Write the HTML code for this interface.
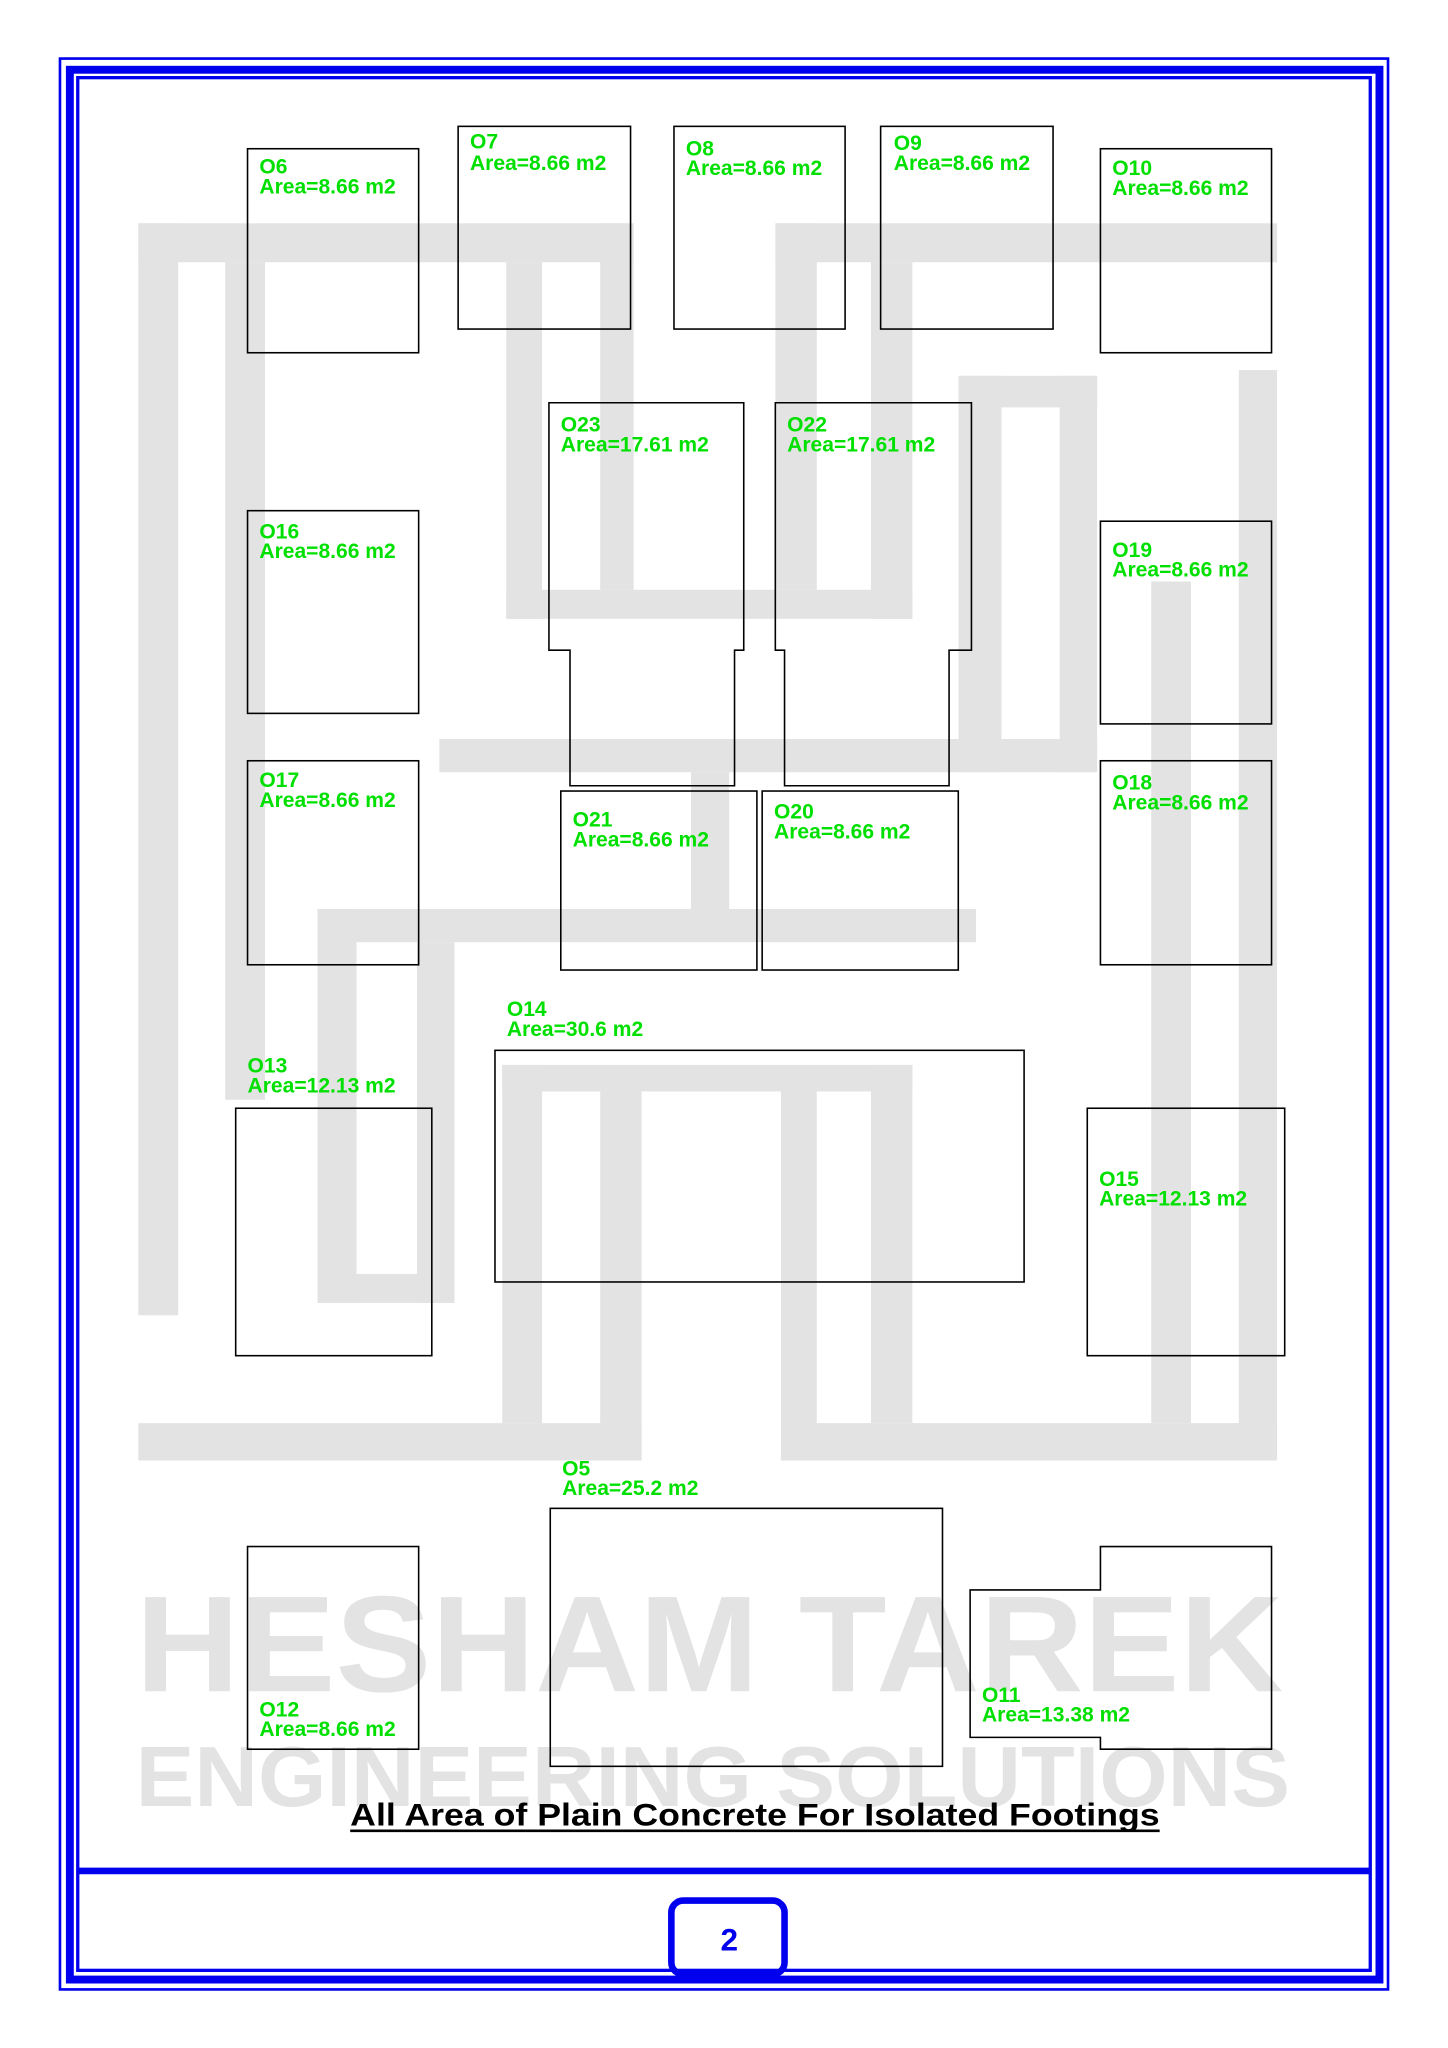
<!DOCTYPE html>
<html><head><meta charset="utf-8"><style>
html,body{margin:0;padding:0;background:#fff;width:1448px;height:2048px;overflow:hidden}
svg{display:block}
.b{fill:none;stroke:#000;stroke-width:1.2}
.g{fill:#e3e3e3}
.l{fill:#00e000;font-family:"Liberation Sans",sans-serif;font-size:16px;font-weight:bold}
</style></head><body>
<svg width="1448" height="2048" viewBox="0 0 1100 1556" xmlns="http://www.w3.org/2000/svg">
<rect width="1100" height="1556" fill="#fff"/>
<g class="g" transform="translate(76,152) scale(0.605,0.63)">
<rect x="48" y="28" width="622" height="47"/>
<rect x="48" y="28" width="50" height="1317"/>
<rect x="157" y="75" width="50" height="1010"/>
<rect x="510" y="75" width="45" height="430"/>
<rect x="628" y="28" width="42" height="442"/>
<rect x="510" y="470" width="510" height="35"/>
<rect x="848" y="28" width="630" height="47"/>
<rect x="848" y="28" width="52" height="442"/>
<rect x="968" y="75" width="52" height="430"/>
<rect x="1078" y="212" width="174" height="38"/>
<rect x="1078" y="212" width="54" height="478"/>
<rect x="1205" y="212" width="47" height="478"/>
<rect x="426" y="650" width="826" height="40"/>
<rect x="1430" y="205" width="48" height="1315"/>
<rect x="1320" y="460" width="50" height="1015"/>
<rect x="742" y="690" width="48" height="165"/>
<rect x="273" y="855" width="827" height="40"/>
<rect x="273" y="855" width="49" height="475"/>
<rect x="398" y="895" width="47" height="435"/>
<rect x="273" y="1295" width="172" height="35"/>
<rect x="505" y="1043" width="515" height="32"/>
<rect x="505" y="1043" width="50" height="432"/>
<rect x="628" y="1075" width="52" height="445"/>
<rect x="855" y="1075" width="45" height="445"/>
<rect x="968" y="1043" width="52" height="432"/>
<rect x="48" y="1475" width="632" height="45"/>
<rect x="855" y="1475" width="623" height="45"/>
</g>
<text x="103" y="1285" textLength="872" lengthAdjust="spacingAndGlyphs" fill="#e3e3e3" font-family="Liberation Sans,sans-serif" font-weight="bold" font-size="104">HESHAM TAREK</text>
<text x="103" y="1372" textLength="877" lengthAdjust="spacingAndGlyphs" fill="#e3e3e3" font-family="Liberation Sans,sans-serif" font-weight="bold" font-size="65">ENGINEERING SOLUTIONS</text>

<g fill="none" stroke="#0000ee">
<rect x="45.5" y="44.5" width="1009" height="1467" stroke-width="2"/>
<rect x="53" y="53" width="995" height="1451" stroke-width="6"/>
<rect x="59" y="59" width="982" height="1438" stroke-width="2.5"/>
<line x1="59" y1="1421.5" x2="1041" y2="1421.5" stroke-width="5"/>
<rect x="510" y="1444" width="86" height="56" rx="9" stroke-width="5"/>
</g>
<text x="554" y="1482" text-anchor="middle" fill="#0000ee" font-family="Liberation Sans,sans-serif" font-weight="bold" font-size="24">2</text>

<rect class="b" x="188" y="113" width="130" height="155"/>
<rect class="b" x="348" y="96" width="131" height="154"/>
<rect class="b" x="512" y="96" width="130" height="154"/>
<rect class="b" x="669" y="96" width="131" height="154"/>
<rect class="b" x="836" y="113" width="130" height="155"/>
<rect class="b" x="188" y="388" width="130" height="154"/>
<rect class="b" x="836" y="396" width="130" height="154"/>
<rect class="b" x="188" y="578" width="130" height="155"/>
<rect class="b" x="836" y="578" width="130" height="155"/>
<polygon class="b" points="417,306 565,306 565,494 558,494 558,597 433,597 433,494 417,494"/>
<polygon class="b" points="589,306 738,306 738,494 721,494 721,597 596,597 596,494 589,494"/>
<rect class="b" x="426" y="601" width="149" height="136"/>
<rect class="b" x="579" y="601" width="149" height="136"/>
<rect class="b" x="376" y="798" width="402" height="176"/>
<rect class="b" x="179" y="842" width="149" height="188"/>
<rect class="b" x="826" y="842" width="150" height="188"/>
<rect class="b" x="418" y="1146" width="298" height="196"/>
<rect class="b" x="188" y="1175" width="130" height="154"/>
<polygon class="b" points="836,1175 966,1175 966,1329 836,1329 836,1320 737,1320 737,1208 836,1208"/>

<g class="l">
<text x="197" y="132">O6</text><text x="197" y="147">Area=8.66 m2</text>
<text x="357" y="113">O7</text><text x="357" y="129">Area=8.66 m2</text>
<text x="521" y="118">O8</text><text x="521" y="133">Area=8.66 m2</text>
<text x="679" y="114">O9</text><text x="679" y="129">Area=8.66 m2</text>
<text x="845" y="133">O10</text><text x="845" y="148">Area=8.66 m2</text>
<text x="197" y="409">O16</text><text x="197" y="424">Area=8.66 m2</text>
<text x="845" y="423">O19</text><text x="845" y="438">Area=8.66 m2</text>
<text x="197" y="598">O17</text><text x="197" y="613">Area=8.66 m2</text>
<text x="845" y="600">O18</text><text x="845" y="615">Area=8.66 m2</text>
<text x="426" y="328">O23</text><text x="426" y="343">Area=17.61 m2</text>
<text x="598" y="328">O22</text><text x="598" y="343">Area=17.61 m2</text>
<text x="435" y="628">O21</text><text x="435" y="643">Area=8.66 m2</text>
<text x="588" y="622">O20</text><text x="588" y="637">Area=8.66 m2</text>
<text x="385" y="772">O14</text><text x="385" y="787">Area=30.6 m2</text>
<text x="188" y="815">O13</text><text x="188" y="830">Area=12.13 m2</text>
<text x="835" y="901">O15</text><text x="835" y="916">Area=12.13 m2</text>
<text x="427" y="1121">O5</text><text x="427" y="1136">Area=25.2 m2</text>
<text x="197" y="1304">O12</text><text x="197" y="1319">Area=8.66 m2</text>
<text x="746" y="1293">O11</text><text x="746" y="1308">Area=13.38 m2</text>
</g>
<text x="266" y="1387" textLength="615" lengthAdjust="spacingAndGlyphs" fill="#000" font-family="Liberation Sans,sans-serif" font-weight="bold" font-size="24">All Area of Plain Concrete For Isolated Footings</text>
<line x1="266" y1="1391" x2="881" y2="1391" stroke="#000" stroke-width="2"/>
</svg>
</body></html>
